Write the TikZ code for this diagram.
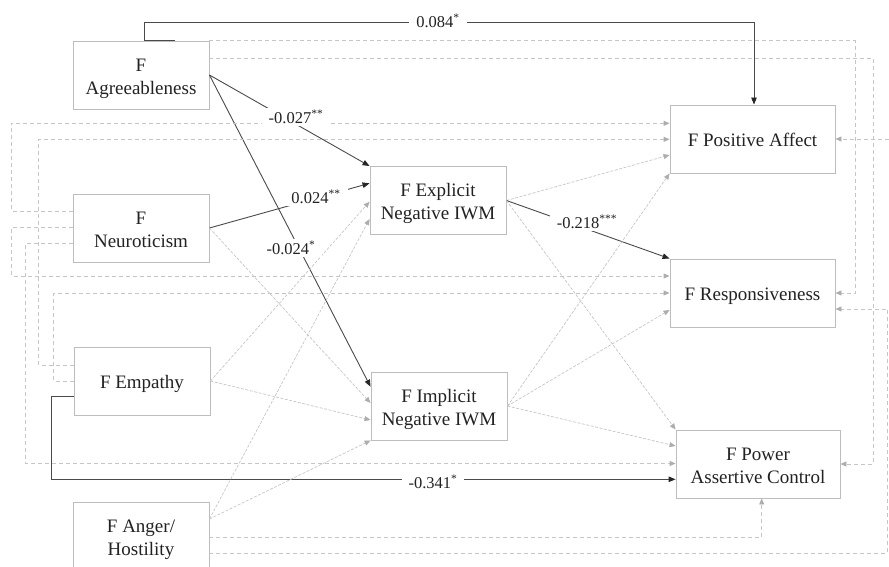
\documentclass[tikz,border=0pt]{standalone}
\usepackage{fontspec}
\setmainfont{Liberation Serif}
\newfontfamily\tnr{Liberation Serif}
\usetikzlibrary{arrows.meta,calc}
\definecolor{boxgray}{HTML}{BDBDBD}
\definecolor{dashgray}{HTML}{C6C6C6}
\definecolor{tipgray}{HTML}{ADADAD}
\definecolor{darkline}{HTML}{4A4A4A}
\definecolor{txt}{HTML}{222222}
\newcommand\myTop{\rule{0pt}{20.5pt}}
\newcommand\myBot{\rule[-5pt]{0pt}{5pt}}
\begin{document}
\begin{tikzpicture}[x=1pt,y=-1pt,
  box/.style={draw=boxgray, line width=0.9pt, fill=white, minimum width=136pt, minimum height=68pt, inner sep=0pt, align=center, text=txt, font=\tnr\fontsize{19}{23}\selectfont},
  wbox/.style={box, minimum width=165pt},
  dline/.style={draw=dashgray, line width=0.9pt, dash pattern=on 4pt off 3pt, -{Triangle[length=6pt,width=5pt,color=tipgray]}},
  thinline/.style={draw=dashgray, line width=0.7pt, dash pattern=on 3pt off 1.5pt, -{Triangle[length=6pt,width=5pt,color=tipgray]}},
  sline/.style={draw=darkline, line width=0.9pt, -{Triangle[length=7pt,width=5.5pt,color=black!85]}},
  lab/.style={fill=white, text=txt, inner xsep=7pt, inner ysep=2pt, font=\tnr\fontsize{16.5}{19}\selectfont}
]
\useasboundingbox (0,0) rectangle (889,567);
\clip (0,0) rectangle (889,567);

% nodes
\node[box] (agr) at (141,75) {\myTop F\\Agreeableness\myBot};
\node[box] (neu) at (141,228) {\myTop F\\Neuroticism\myBot};
\node[box] (emp) at (142,381) {\myTop F Empathy\myBot};
\node[box] (ang) at (141,536) {\myTop F Anger/\\Hostility\myBot};
\node[box] (exp) at (438,200.5) {\myTop F Explicit\\Negative IWM\myBot};
\node[box] (imp) at (439,406) {\myTop F Implicit\\Negative IWM\myBot};
\node[wbox] (pos) at (752.5,139) {\myTop F Positive Affect\myBot};
\node[wbox] (res) at (752.5,293) {\myTop F Responsiveness\myBot};
\node[wbox, minimum width=164pt] (pow) at (758,464) {\myTop F Power\\Assertive Control\myBot};
\coordinate (rEdge) at (889,139);

% Agreeableness
\draw[sline] (agr.east) -- (exp.north west);
\draw[sline] (agr.east) -- ([yshift=19.3]imp.west);
\draw[sline] ([xshift=34]agr.north) -- ([xshift=3]agr.north) -- ++(0,-17.7) -| ([xshift=1.5]pos.north);
\draw[dline] (agr.north east) -| ([xshift=20]res.east) -- (res.east);
\draw[dline] ([yshift=16.7]agr.east) -| ([xshift=33]pow.east) -- (pow.east);

% Neuroticism
\draw[sline] (neu.east) -- ([yshift=17.2]exp.west);
\draw[thinline] (neu.east) -- ([yshift=3]imp.west);
\draw[dline] ([yshift=17]neu.west) -- ++(-61.3,0) |- ([yshift=15.7]pos.west);
\draw[dline] ([yshift=0.3]neu.west) -- ++(-61.3,0) |- ([yshift=17]res.west);
\draw[dline] ([yshift=-15.3]neu.west) -- ++(-47.3,0) |- ([yshift=0.5]pow.west);

% Empathy
\draw[thinline] (emp.east) -- ([yshift=-1.2]exp.west);
\draw[thinline] (emp.east) -- ([yshift=-14]imp.west);
\draw[dline] ([yshift=16]emp.west) -- ++(-34.7,0) |- ([yshift=-0.3]pos.west);
\draw[dline] (emp.west) -- ++(-20,0) |- (res.west);
\draw[sline] ([yshift=-15.7]emp.west) -- ++(-21.7,0) |- ([yshift=-15.3]pow.west);

% Anger/Hostility
\draw[thinline] ([yshift=17]ang.east) -- ([yshift=-18.5]exp.west);
\draw[thinline] ([yshift=17]ang.east) -- (imp.south west);
\draw[dline] ([yshift=-1.3]ang.east) -| ([xshift=3.7]pow.south);
\draw[dline] ([yshift=-17.3]ang.east) -| ([xshift=52,yshift=-16]res.east) -- ([yshift=-16]res.east);
\draw[dline] (rEdge) -- (pos.east);

% Explicit
\draw[thinline] (exp.east) -- ([yshift=-16]pos.west);
\draw[sline] (exp.east) -- (res.north west);
\draw[thinline] (exp.east) -- (pow.north west);

% Implicit
\draw[thinline] (imp.east) -- (pos.south west);
\draw[thinline] (imp.east) -- ([yshift=-17]res.west);
\draw[thinline] (imp.east) -- ([yshift=18]pow.west);

% labels
\node[lab] (l1) at (438,21) {0.084\textsuperscript{*}};
\node[lab] (l2) at (296,117) {-0.027\textsuperscript{**}};
\node[lab] (l3) at (316,197) {0.024\textsuperscript{**}};
\node[lab] (l4) at (291,248) {-0.024\textsuperscript{*}};
\node[lab] (l5) at (587,222) {-0.218\textsuperscript{***}};
\node[lab] (l6) at (433,482) {-0.341\textsuperscript{*}};
\end{tikzpicture}
\end{document}
